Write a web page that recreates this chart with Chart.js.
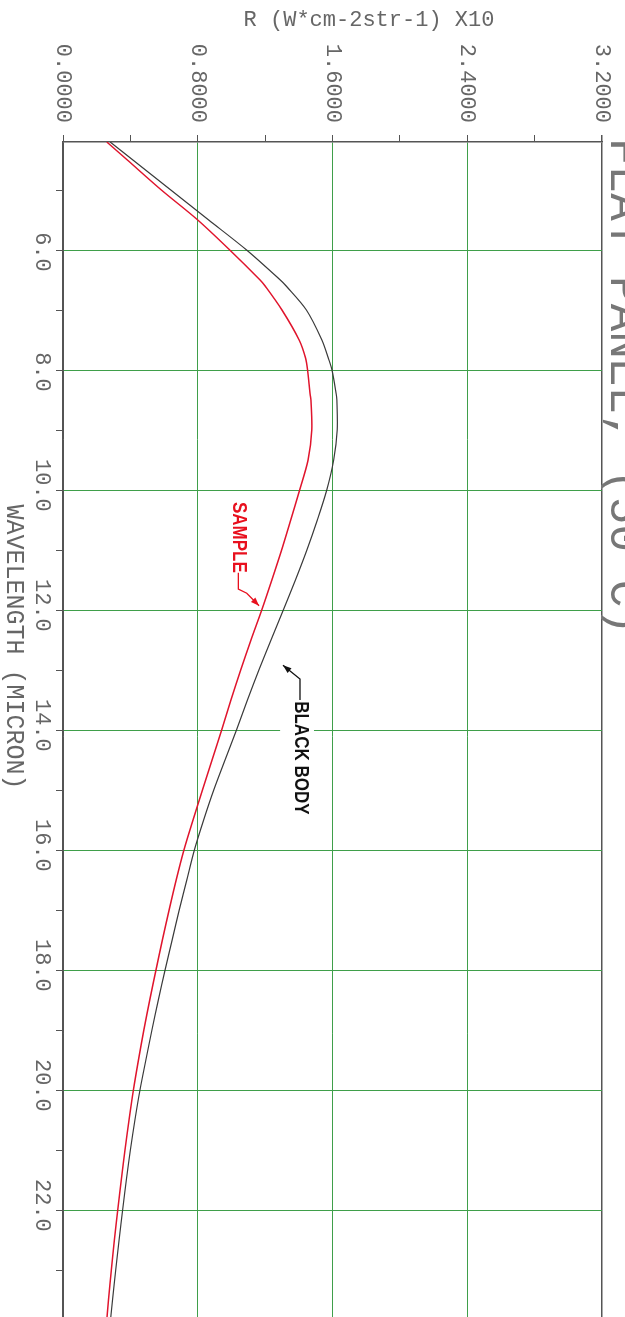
<!DOCTYPE html>
<html>
<head>
<meta charset="utf-8">
<script src="https://cdn.jsdelivr.net/npm/chart.js@4.4.0/dist/chart.umd.min.js"></script>
<style>
html, body { margin: 0; padding: 0; background: #fff; overflow: hidden; height: 1317px; }
canvas { display: block; }
</style>
</head>
<body>
<canvas id="myChart" width="625" height="1330"></canvas>
<script>
const wavelength = [4.2, 4.5, 5.0, 5.5, 6.0, 6.5, 6.6, 7.0, 7.5, 7.8, 8.0, 8.4, 8.5, 9.0, 9.5, 10.0, 10.5, 11.0, 11.5, 12.0,
	12.5, 13.0, 13.5, 14.0, 14.5, 15.0, 15.5, 16.0, 16.5, 17.0, 17.5, 18.0, 18.5, 19.0, 19.5, 20.0, 20.5, 21.0, 21.5, 22.0,
	22.5, 23.0, 23.5, 24.0];
const blackBody = [0.28, 0.415, 0.64, 0.865, 1.09, 1.29, 1.325, 1.445, 1.537, 1.575, 1.597, 1.622, 1.626, 1.628, 1.607, 1.566, 1.51, 1.448, 1.38, 1.308,
	1.235, 1.163, 1.095, 1.03, 0.962, 0.895, 0.835, 0.78, 0.735, 0.69, 0.648, 0.606, 0.566, 0.528, 0.492, 0.457, 0.427, 0.40, 0.376, 0.354,
	0.333, 0.313, 0.294, 0.276];
const sample = [0.26, 0.382, 0.584, 0.80, 0.99, 1.17, 1.20, 1.30, 1.402, 1.44, 1.452, 1.467, 1.472, 1.477, 1.455, 1.405, 1.352, 1.298, 1.24, 1.18,
	1.116, 1.055, 0.997, 0.942, 0.885, 0.828, 0.772, 0.718, 0.672, 0.63, 0.59, 0.552, 0.515, 0.48, 0.448, 0.418, 0.392, 0.368, 0.346, 0.325,
	0.305, 0.287, 0.27, 0.255];

const rTicks = [0, 0.4, 0.8, 1.2, 1.6, 2.0, 2.4, 2.8, 3.2];
const rLabelValues = [0, 0.8, 1.6, 2.4, 3.2];
const rLabels = ['0.0000', '0.8000', '1.6000', '2.4000', '3.2000'];
const wlTicks = [5, 6, 7, 8, 9, 10, 11, 12, 13, 14, 15, 16, 17, 18, 19, 20, 21, 22, 23];
const wlLabelValues = [6, 8, 10, 12, 14, 16, 18, 20, 22];
const wlLabels = ['6.0', '8.0', '10.0', '12.0', '14.0', '16.0', '18.0', '20.0', '22.0'];

const GREEN = '#3f9f4a';
const AXIS = '#555';
const TEXT = '#666';

const ctx = document.getElementById('myChart').getContext('2d');

function toPoints(values) {
	return values.map((v, i) => ({x: v, y: wavelength[i]}));
}

// text rotated 90deg clockwise (reads top to bottom)
function vText(c, str, px, py, align, sx) {
	c.save();
	c.translate(px, py);
	c.rotate(Math.PI / 2);
	if (sx) c.scale(sx, 1);
	c.textAlign = align;
	c.fillText(str, 0, 0);
	c.restore();
}

function arrow(c, pts, color) {
	c.strokeStyle = color;
	c.fillStyle = color;
	c.lineWidth = 1.3;
	c.beginPath();
	c.moveTo(pts[0][0], pts[0][1]);
	pts.slice(1).forEach(p => c.lineTo(p[0], p[1]));
	c.stroke();
	const [ax, ay] = pts[pts.length - 2];
	const [bx, by] = pts[pts.length - 1];
	const a = Math.atan2(by - ay, bx - ax);
	c.beginPath();
	c.moveTo(bx, by);
	c.lineTo(bx - 9 * Math.cos(a - 0.35), by - 9 * Math.sin(a - 0.35));
	c.lineTo(bx - 9 * Math.cos(a + 0.35), by - 9 * Math.sin(a + 0.35));
	c.closePath();
	c.fill();
}

const plotterText = {
	id: 'plotterText',
	afterDraw(chart) {
		const c = chart.ctx;
		const {x, y} = chart.scales;
		const P = (r, l) => [x.getPixelForValue(r), y.getPixelForValue(l)];
		c.save();

		// axis tick labels
		c.fillStyle = TEXT;
		c.font = '22px "Liberation Mono"';
		c.textBaseline = 'middle';
		rLabelValues.forEach((v, i) => {
			vText(c, rLabels[i], x.getPixelForValue(v), 123, 'right');
		});
		wlLabelValues.forEach((v, i) => {
			const s = wlLabels[i];
			const dot = s.indexOf('.');
			const off = c.measureText(s.slice(0, dot)).width + c.measureText('.').width / 2;
			vText(c, s, 41.5, y.getPixelForValue(v) + 2 - off, 'left');
		});

		// axis titles
		c.textAlign = 'center';
		c.fillText('R (W*cm-2str-1) X10', 369, 20);
		c.font = '25px "Liberation Mono"';
		vText(c, 'WAVELENGTH (MICRON)', 14, 647, 'center');

		// plot title, cut off at the right edge
		c.fillStyle = '#777';
		c.font = '46px "Liberation Mono"';
		c.textBaseline = 'alphabetic';
		vText(c, 'FLAT PANEL, (50°C)', 611, 138, 'left');

		// SAMPLE label
		c.textBaseline = 'middle';
		c.font = 'bold 20px "Liberation Sans"';
		c.fillStyle = '#e8101e';
		let p = P(1.04, 10.2);
		vText(c, 'SAMPLE', p[0], p[1], 'left', 0.85);
		arrow(c, [P(1.041, 11.38), P(1.041, 11.65), P(1.091, 11.72), P(1.164, 11.93)], '#e8101e');

		// BLACK BODY label on a white patch
		const a = P(1.289, 13.37), b = P(1.49, 15.47);
		c.fillStyle = '#fff';
		c.fillRect(a[0], a[1], b[0] - a[0], b[1] - a[1]);
		c.fillStyle = '#111';
		p = P(1.413, 13.52);
		vText(c, 'BLACK BODY', p[0], p[1], 'left', 0.85);
		arrow(c, [P(1.407, 13.5), P(1.407, 13.15), P(1.306, 12.92)], '#111');

		c.restore();
	}
};

new Chart(ctx, {
	type: 'scatter',
	data: {
		datasets: [{
			label: 'BLACK BODY',
			data: toPoints(blackBody),
			showLine: true,
			borderColor: '#3a3a3a',
			borderWidth: 1.2,
			pointRadius: 0,
			tension: 0.3
		},
		{
			label: 'SAMPLE',
			data: toPoints(sample),
			showLine: true,
			borderColor: '#e0142c',
			borderWidth: 1.5,
			pointRadius: 0,
			tension: 0.3
		}]
	},
	options: {
		responsive: false,
		animation: false,
		devicePixelRatio: 1,
		layout: {padding: {left: 0, top: 0, right: 23, bottom: 0}},
		plugins: {
			legend: {display: false},
			tooltip: {enabled: false}
		},
		scales: {
			x: {
				type: 'linear',
				position: 'top',
				min: 0,
				max: 3.2,
				afterBuildTicks: (s) => { s.ticks = rTicks.map(v => ({value: v})); },
				afterFit: (s) => { s.height = 142; },
				ticks: {display: false},
				border: {color: AXIS, width: 1.5},
				grid: {
					color: (c) => {
						const k = Math.round(c.tick.value * 10);
						if (k === 0 || k === 32) return AXIS;
						return k % 8 === 0 ? GREEN : 'rgba(0,0,0,0)';
					},
					lineWidth: (c) => Math.round(c.tick.value * 10) === 32 ? 1.5 : 1,
					tickColor: AXIS,
					tickLength: 7
				}
			},
			y: {
				type: 'linear',
				position: 'left',
				reverse: true,
				min: 4.2,
				max: 24,
				afterBuildTicks: (s) => { s.ticks = wlTicks.map(v => ({value: v})); },
				afterFit: (s) => { s.width = 63; },
				ticks: {display: false},
				border: {color: AXIS, width: 1.5},
				grid: {
					color: (c) => c.tick.value % 2 === 0 ? GREEN : 'rgba(0,0,0,0)',
					tickColor: AXIS,
					tickLength: 7
				}
			}
		}
	},
	plugins: [plotterText]
});
</script>
</body>
</html>
